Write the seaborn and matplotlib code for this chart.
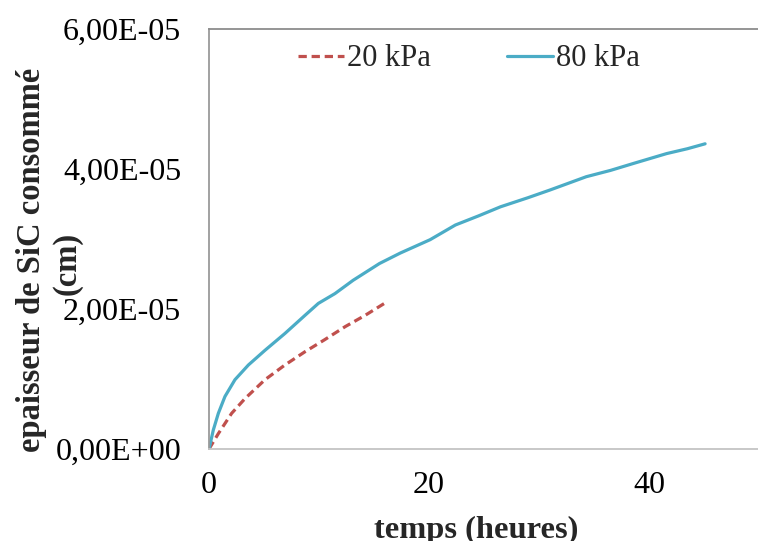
import seaborn as sns
import pandas as pd
from matplotlib import pyplot as plt
from matplotlib.ticker import FuncFormatter, MultipleLocator

# temps (heures) / epaisseur (cm)
t_20 = [0, 0.85, 2.06, 3.27, 5.09, 6.9, 8.73, 10.5, 12.4, 14.2, 16.15]
e_20 = [0, 0.22e-5, 0.51e-5, 0.72e-5, 0.99e-5, 1.20e-5, 1.39e-5, 1.56e-5,
        1.75e-5, 1.91e-5, 2.10e-5]

t_80 = [0, 0.09, 0.39, 0.85, 1.45, 2.36, 3.58, 5.09, 6.9, 8.73, 9.94, 11.45,
        13.1, 15.5, 17.4, 20.1, 22.4, 24.5, 26.5, 29.0, 31.0, 34.3, 36.5,
        38.6, 41.6, 43.5, 45.1]
e_80 = [0, 0.06e-5, 0.27e-5, 0.51e-5, 0.75e-5, 0.99e-5, 1.20e-5, 1.41e-5,
        1.65e-5, 1.91e-5, 2.08e-5, 2.22e-5, 2.41e-5, 2.65e-5, 2.80e-5,
        2.99e-5, 3.20e-5, 3.33e-5, 3.46e-5, 3.59e-5, 3.70e-5, 3.89e-5,
        3.98e-5, 4.08e-5, 4.22e-5, 4.29e-5, 4.36e-5]

df20 = pd.DataFrame({"temps": t_20, "ep": e_20})
df80 = pd.DataFrame({"temps": t_80, "ep": e_80})

sns.set_theme(style="white")
plt.rcParams['font.family'] = ['Liberation Serif', 'DejaVu Serif']

fig = plt.figure(figsize=(7.58, 5.41), dpi=100)
ax = fig.add_axes([209/758, 92/541, 550/758, 420/541])

sns.lineplot(x="temps", y="ep", data=df20, ax=ax, color="#c0504d", lw=2.3,
             linestyle=(0, (2.6, 1.5)), label="20 kPa", sort=False)
sns.lineplot(x="temps", y="ep", data=df80, ax=ax, color="#4bacc6", lw=2.3,
             label="80 kPa", sort=False)

ax.set_xlim(0, 50)
ax.set_ylim(0, 6e-5)
ax.xaxis.set_major_locator(MultipleLocator(20))
ax.yaxis.set_major_locator(MultipleLocator(2e-5))
ax.yaxis.set_major_formatter(FuncFormatter(lambda v, p: f"{v:.2E}".replace('.', ',')))
ax.tick_params(axis='both', length=0, labelsize=23, colors='black')
ax.tick_params(axis='y', pad=20)
ax.tick_params(axis='x', pad=16)

ax.spines['right'].set_visible(False)
ax.spines['top'].set_color('#8c8c8c')
ax.spines['left'].set_color('#9a9a9a')
ax.spines['bottom'].set_color('#c4c4c4')
for s in ['top', 'left', 'bottom']:
  ax.spines[s].set_linewidth(1.3)

ax.set_xlabel('temps (heures)', fontsize=23.4, fontweight='bold', va='center')
ax.xaxis.set_label_coords(0.485, -0.195)
# y label drawn as two lines, placed like the original
ax.set_ylabel('')
ax.text(-0.3236, 0.45, 'epaisseur de SiC consommé', transform=ax.transAxes,
        rotation=90, ha='center', va='center', fontsize=23.5, fontweight='bold')
ax.text(-0.258, 0.443, '(cm)', transform=ax.transAxes,
        rotation=90, ha='center', va='center', fontsize=23.5, fontweight='bold')

ax.legend(loc="upper center", bbox_to_anchor=(0.473, 1.0), ncol=2, frameon=False,
          fontsize=22, handlelength=1.5, handletextpad=0.1, columnspacing=2.5,
          borderaxespad=0.1)

plt.savefig("out.png", dpi=100)
